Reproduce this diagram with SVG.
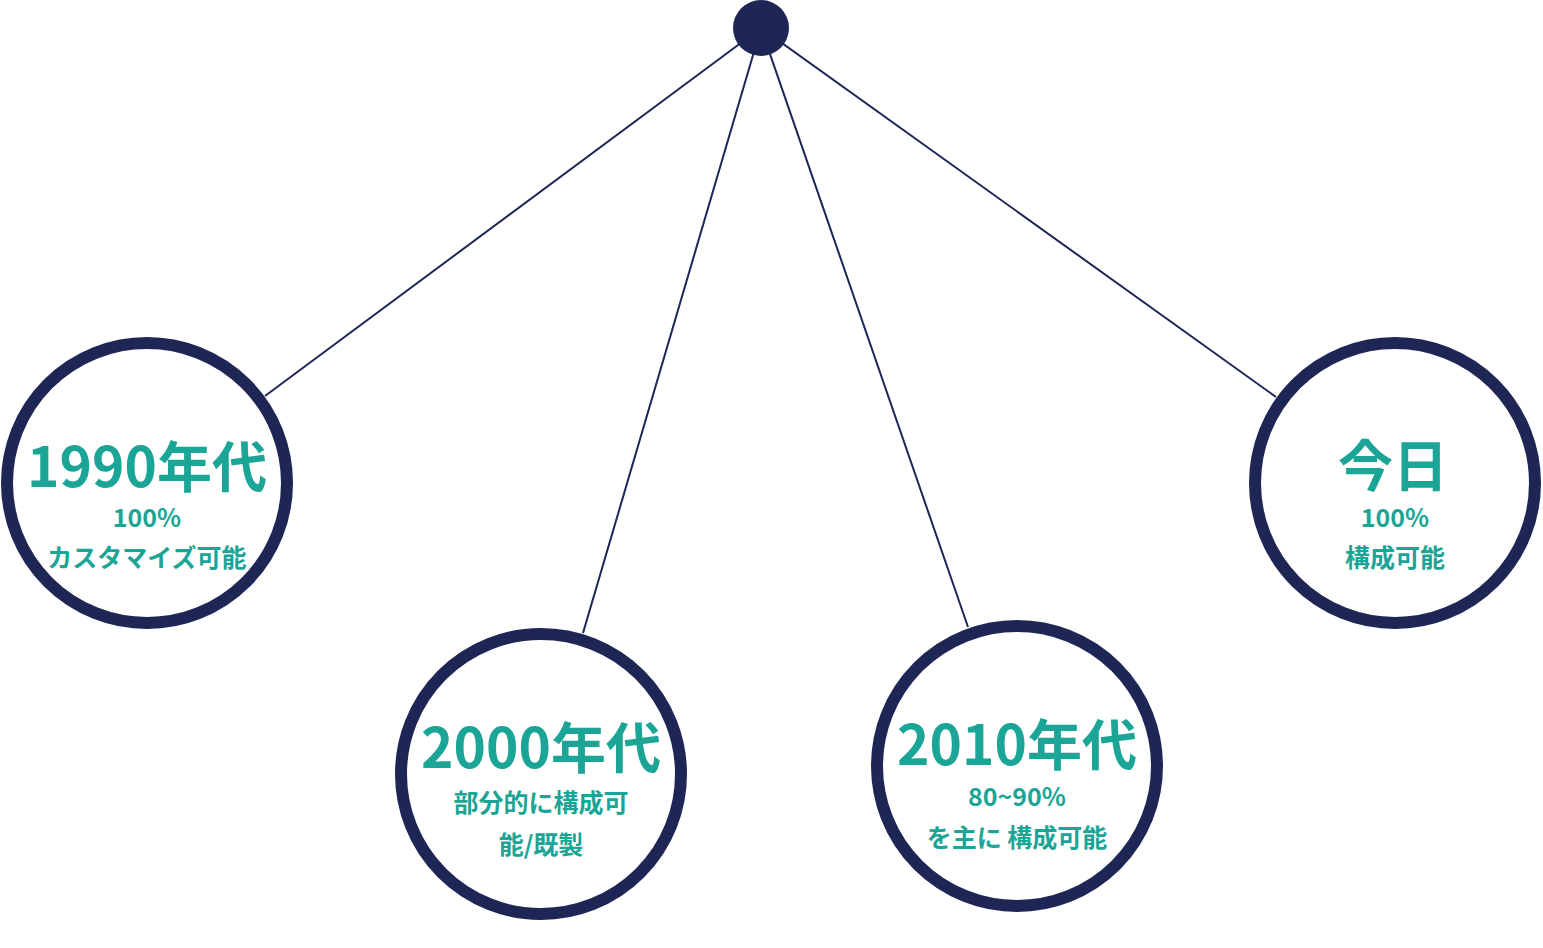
<svg xmlns="http://www.w3.org/2000/svg" width="1543" height="948" viewBox="0 0 1543 948">
<style>
.ring{fill:#fff;stroke:#1e2656;stroke-width:12}
.conn{stroke:#1e2656;stroke-width:2;fill:none}
.t{font-family:"Noto Sans CJK JP","Noto Sans",sans-serif;font-weight:bold;fill:#1ba596;text-anchor:middle}
.big{font-size:55px}
.sm{font-size:25px}
</style>
<rect width="1543" height="948" fill="#fff"/>
<g id="connectors">
<line class="conn" x1="761" y1="28" x2="265" y2="396"/>
<line class="conn" x1="761" y1="28" x2="583" y2="633"/>
<line class="conn" x1="761" y1="28" x2="968" y2="627"/>
<line class="conn" x1="761" y1="28" x2="1276" y2="397"/>
</g>
<g id="hub"><circle cx="761" cy="28" r="28" fill="#1e2656"/></g>
<g id="n1990">
<circle class="ring" cx="147" cy="483" r="140"/>
<text class="t big" x="147" y="487">1990年代</text>
<text class="t sm" x="147" y="527">100%</text>
<text class="t sm" x="147" y="567">カスタマイズ可能</text>
</g>
<g id="n2000">
<circle class="ring" cx="541" cy="774" r="140"/>
<text class="t big" x="541" y="768">2000年代</text>
<text class="t sm" x="541" y="812">部分的に構成可</text>
<text class="t sm" x="541" y="854">能/既製</text>
</g>
<g id="n2010">
<circle class="ring" cx="1017" cy="766" r="140"/>
<text class="t big" x="1017" y="765">2010年代</text>
<text class="t sm" x="1017" y="806">80~90%</text>
<text class="t sm" x="1017" y="847">を主に 構成可能</text>
</g>
<g id="today">
<circle class="ring" cx="1395" cy="483" r="140"/>
<text class="t big" x="1393" y="486">今日</text>
<text class="t sm" x="1395" y="527">100%</text>
<text class="t sm" x="1395" y="567">構成可能</text>
</g>
</svg>
